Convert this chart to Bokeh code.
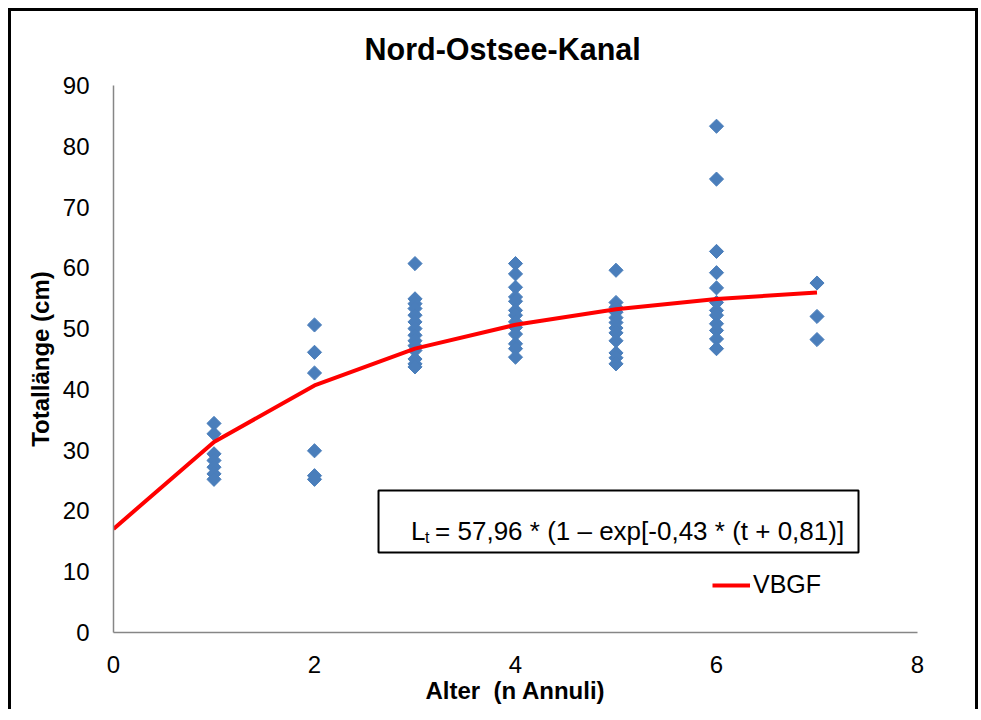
from bokeh.plotting import figure
from bokeh.models import (ColumnDataSource, Label, BoxAnnotation, Legend, LegendItem,
                          FixedTicker, Range1d)
from bokeh.embed import file_html
from bokeh.resources import INLINE
import math

# ---- data ----
len_age1 = [34.4, 32.7, 29.4, 28.3, 27.2, 26.1, 25.2]
len_age2 = [50.6, 46.1, 42.7, 29.9, 25.8, 25.2]
len_age3 = [60.7, 54.9, 54.1, 53.3, 52.2, 51.1, 50.0, 48.9, 48.0, 47.2, 46.4, 45.0, 44.2, 43.7]
len_age4 = [60.7, 59.0, 56.8, 55.2, 54.5, 53.0, 52.2, 51.1, 50.2, 49.1, 47.5, 46.7, 45.3]
len_age5 = [59.6, 54.3, 53.5, 52.7, 51.8, 51.0, 50.1, 49.3, 48.0, 46.0, 45.2, 44.2]
len_age6 = [83.3, 74.6, 62.7, 59.2, 56.7, 54.3, 53.0, 52.2, 50.8, 49.7, 48.3, 46.7]
len_age7 = [57.5, 52.0, 48.2]

vbgf_t = [0, 1, 2, 3, 4, 5, 6, 7]
vbgf_len = [17.05, 31.35, 40.65, 46.70, 50.63, 53.20, 54.86, 55.94]

x_ticks = [0, 2, 4, 6, 8]
y_ticks = [0, 10, 20, 30, 40, 50, 60, 70, 80, 90]

title_text = "Nord-Ostsee-Kanal"
x_label = "Alter\u00a0 (n Annuli)"
y_label = "Totallänge (cm)"
eq_main = "L"
eq_sub = "t"
eq_rest = "= 57,96 * (1 – exp[-0,43 * (t + 0,81)]"
legend_label = "VBGF"

groups = [len_age1, len_age2, len_age3, len_age4, len_age5, len_age6, len_age7]
ages, lengths = [], []
for i, g in enumerate(groups, start=1):
    ages += [i] * len(g)
    lengths += g

FONT = "Liberation Sans"

p = figure(width=970, height=701, output_backend="svg", toolbar_location=None,
           x_range=Range1d(0, 8), y_range=Range1d(0, 90),
           min_border_left=102, min_border_right=64, min_border_top=74, min_border_bottom=80)
p.styles = {"margin-left": "8px", "margin-top": "8px",
            "border-top": "3px solid black", "border-left": "3px solid black",
            "border-right": "3px solid black"}
p.background_fill_color = "white"
p.border_fill_color = "white"
p.outline_line_color = None
p.xgrid.visible = False
p.ygrid.visible = False

p.title.text = title_text
p.title.text_font = FONT
p.title.text_font_size = "30.5px"
p.title.text_font_style = "bold"
p.title.text_color = "black"
p.title.align = "left"
p.title.vertical_align = "top"
p.title.offset = 251
p.title.standoff = 35

for ax, ticks in ((p.xaxis[0], x_ticks), (p.yaxis[0], y_ticks)):
    ax.ticker = FixedTicker(ticks=ticks)
    ax.axis_line_color = "#868686"
    ax.axis_line_width = 1.5
    ax.major_tick_line_color = None
    ax.minor_tick_line_color = None
    ax.major_tick_out = 0
    ax.major_tick_in = 0
    ax.major_label_text_font = FONT
    ax.major_label_text_font_size = "24px"
    ax.major_label_text_color = "black"
    ax.axis_label_text_font = FONT
    ax.axis_label_text_font_size = "24px"
    ax.axis_label_text_font_style = "bold"
    ax.axis_label_text_color = "black"

p.xaxis.axis_label = x_label
p.yaxis.axis_label = y_label
p.xaxis.major_label_standoff = 23
p.yaxis.major_label_standoff = 24
p.xaxis.axis_label_standoff = 1
p.yaxis.axis_label_standoff = 6

src = ColumnDataSource(dict(x=ages, y=lengths))
p.scatter("x", "y", source=src, marker="square", size=10, angle=math.pi / 4,
          fill_color="#4A7EBB", line_color="#4A7EBB", line_width=1)

line_r = p.line(vbgf_t, vbgf_len, line_color="#FF0000", line_width=4)

# equation box
box = BoxAnnotation(left=2.637, right=7.413, bottom=13.16, top=23.36,
                    fill_color="white", fill_alpha=1.0, line_color="black",
                    line_alpha=1.0, line_width=2)
p.add_layout(box)
p.add_layout(Label(x=2.96, y=16.78, text=eq_main, text_font=FONT, text_font_size="26px",
                   text_baseline="alphabetic", text_color="black"))
p.add_layout(Label(x=3.10, y=15.68, text=eq_sub, text_font=FONT, text_font_size="16px",
                   text_baseline="alphabetic", text_color="black"))
p.add_layout(Label(x=3.20, y=16.78, text=eq_rest, text_font=FONT, text_font_size="26px",
                   text_baseline="alphabetic", text_color="black"))

legend = Legend(items=[LegendItem(label=legend_label, renderers=[line_r])],
                location=(599, 33), glyph_width=38, glyph_height=20, label_standoff=3,
                padding=0, margin=0, border_line_color=None, background_fill_alpha=0,
                label_text_font=FONT, label_text_font_size="25px", label_text_color="black")
p.add_layout(legend)

open("out.html", "w").write(file_html(p, INLINE))
